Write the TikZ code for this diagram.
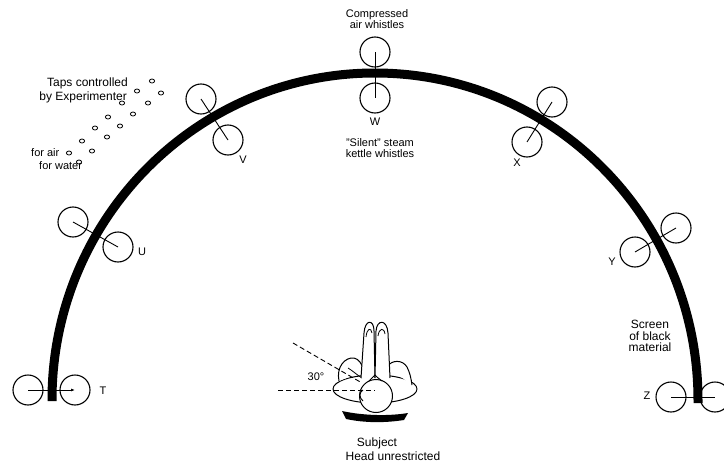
\documentclass[tikz,border=0pt]{standalone}
\usepackage{fontspec}
\setmainfont{Liberation Sans}
\usetikzlibrary{arrows.meta}
\begin{document}
\begin{tikzpicture}[x=1pt,y=-1pt,
  spk/.style={circle,draw,line width=1.1pt,minimum size=30pt,inner sep=0pt},
  stem/.style={line width=0.9pt},
  lbl/.style={font=\fontsize{11}{11.5}\selectfont,inner sep=0pt,align=center},
  biglbl/.style={lbl,font=\fontsize{12}{11.5}\selectfont},
  outline/.style={line width=1pt,fill=white,line join=round},
  sight/.style={line width=0.9pt,dash pattern=on 5pt off 3pt},
  screen/.style={line width=9pt}]
\useasboundingbox (0,0) rectangle (724,466);

% the curved black screen
\draw[screen] (52,401) -- (52,400) arc[start angle=180,end angle=360,x radius=323,y radius=327] -- (698,403);

% whistle pairs: one on each side of the screen, joined through it
\node[spk] (t1) at (28,390) {};
\node[spk] (t2) at (75,390) {};
\draw[stem,-{Latex[length=4pt,width=3pt]}] (t1.center) -- (t2.center);
\node[spk] (u1) at (73,222) {};
\node[spk] (u2) at (118,247) {};
\draw[stem] (u1.center) -- (u2.center);
\node[spk] (v1) at (201,99) {};
\node[spk] (v2) at (228,140) {};
\draw[stem] (v1.center) -- (v2.center);
\node[spk] (w1) at (375,52) {};
\node[spk] (w2) at (375,98) {};
\draw[stem] (w1.center) -- (w2.center);
\node[spk] (x1) at (552,102) {};
\node[spk] (x2) at (527,142) {};
\draw[stem] (x1.center) -- (x2.center);
\node[spk] (y1) at (676,228) {};
\node[spk] (y2) at (635,252) {};
\draw[stem] (y1.center) -- (y2.center);
\node[spk] (z1) at (671,397) {};
\node[spk] (z2) at (715,397) {};
\draw[stem] (z1.center) -- (z2.center);

% position letters
\node[lbl] (lt) at (103,391) {T};
\node[lbl] (lu) at (142,252) {U};
\node[lbl] (lv) at (243,160) {V};
\node[lbl] (lw) at (375,122) {W};
\node[lbl] (lx) at (517,163) {X};
\node[lbl] (ly) at (612,262) {Y};
\node[lbl] (lz) at (647,396) {Z};

% captions
\node[lbl] (air) at (377,19) {Compressed\\air whistles};
\node[lbl] (steam) at (380,148) {"Silent" steam\\kettle whistles};
\node[biglbl,anchor=east] (taps1) at (128,83) {Taps controlled};
\node[biglbl,anchor=east] (taps2) at (127,97) {by Experimenter};
\node[lbl,anchor=west] (forair) at (31,153) {for air};
\node[lbl,anchor=west] (forwater) at (39,166) {for water};
\node[biglbl] (scr) at (650,336) {Screen\\of black\\material};

% taps for air and for water
\foreach \p in {(152,81),(137,91),(122,103),(108,117),(95,128),(82,141),(69,153),(79,162),
                (161,93),(148,103),(133,114),(120,126),(107,137),(92,151)}
  \draw[line width=0.8pt] \p ellipse[x radius=2.6,y radius=2];

% the subject, seen from above
\draw[outline] (375,389) ellipse[x radius=42,y radius=14];
\draw[outline] (339,381) .. controls (336,367) and (345,357) .. (354,358)
  .. controls (359,359) and (362,364) .. (364,371);
\draw[line width=0.8pt] (348,368) .. controls (353,371) and (357,375) .. (362,378);
\draw[outline] (387,367) .. controls (392,359) and (403,360) .. (407,367)
  .. controls (410,373) and (411,378) .. (412,385);
\draw[outline] (361,378) -- (364,333) .. controls (365,319) and (374,319) .. (374,331) -- (375,378);
\draw[outline] (375,378) -- (376,331) .. controls (377,319) and (387,319) .. (388,333) -- (390,378);
\draw[line width=0.8pt] (366,337) .. controls (367,328) and (371,327) .. (372,333);
\draw[line width=0.8pt] (378,336) .. controls (379,328) and (384,327) .. (385,334);
\draw[outline] (376,396) circle[radius=16.5];
\draw[line width=0.9pt] (369,381) .. controls (372,379) and (373,376) .. (375,375)
  .. controls (377,377) and (379,379) .. (382,381);
\draw[line width=0.9pt] (363,390) .. controls (359,392) and (359,398) .. (363,401);
\fill (342,411) .. controls (365,416) and (390,416) .. (408,413) -- (404,420)
  .. controls (385,423) and (365,423) .. (346,419) -- cycle;

% lines of sight
\coordinate (ahead) at (375,390);
\coordinate (front) at (278,390);
\coordinate (oblique) at (293,343);
\coordinate (obend) at (362,383);
\draw[sight] (front) -- (ahead);
\draw[sight] (oblique) -- (obend);
\node[lbl] (ang) at (316,377) {30°};

\node[biglbl] (subj) at (377,443) {Subject};
\node[biglbl] (head) at (393,456) {Head unrestricted};
\end{tikzpicture}
\end{document}
